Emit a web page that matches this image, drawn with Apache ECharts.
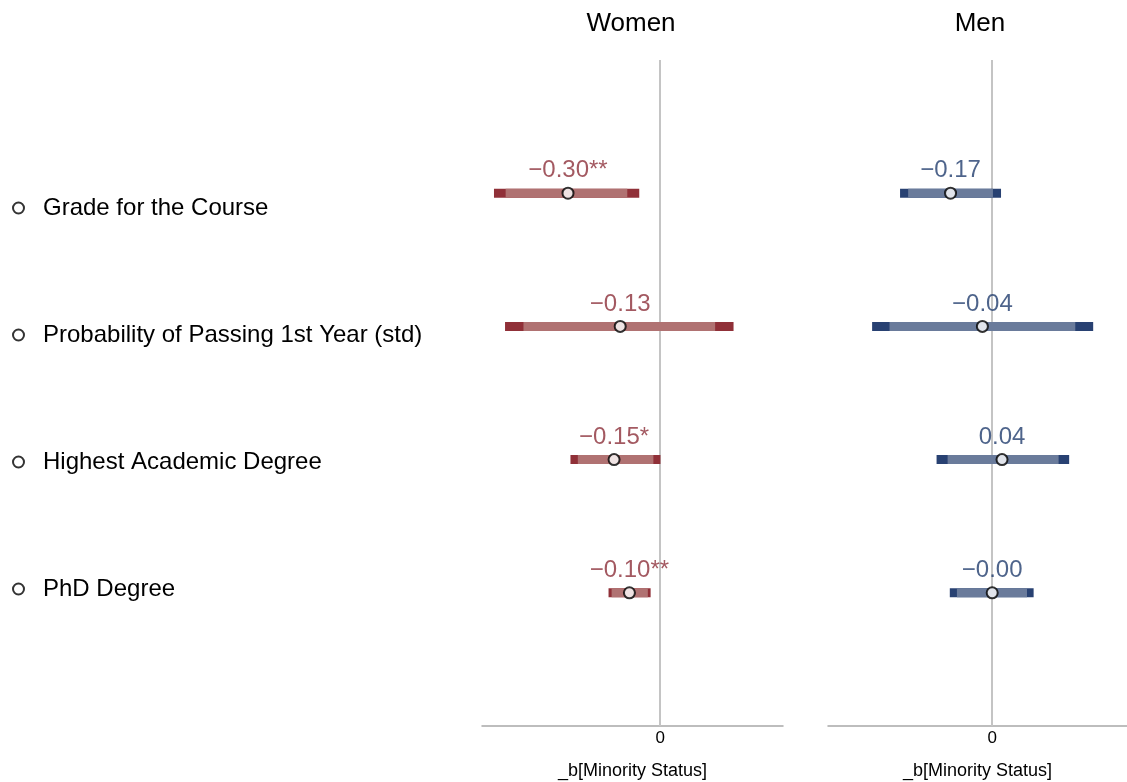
<!DOCTYPE html>
<html>
<head>
<meta charset="utf-8">
<script src="https://cdn.jsdelivr.net/npm/echarts@6/dist/echarts.min.js"></script>
<style>
  html, body { margin: 0; padding: 0; background: #fff; }
  #chart { width: 1127px; height: 782px; }
</style>
</head>
<body>
<div id="chart"></div>
<script>
// Outcomes, listed top to bottom
const outcomes = [
  'Grade for the Course',
  'Probability of Passing 1st Year (std)',
  'Highest Academic Degree',
  'PhD Degree'
];
const panels = ['Women', 'Men'];

// Women: coefficient, 95% and 90% confidence bounds, printed labels
const womenCoef  = [-0.30, -0.13, -0.15, -0.10];
const womenLo95  = [-0.541, -0.505, -0.292, -0.168];
const womenHi95  = [-0.068, 0.239, 0.001, -0.031];
const womenLo90  = [-0.503, -0.445, -0.268, -0.158];
const womenHi90  = [-0.107, 0.179, -0.022, -0.040];
const womenLabel = ['\u22120.30**', '\u22120.13', '\u22120.15*', '\u22120.10**'];

// Men
const menCoef  = [-0.17, -0.04, 0.04, -0.00];
const menLo95  = [-0.376, -0.490, -0.227, -0.173];
const menHi95  = [0.036, 0.412, 0.314, 0.169];
const menLo90  = [-0.343, -0.419, -0.182, -0.144];
const menHi90  = [0.003, 0.339, 0.271, 0.142];
const menLabel = ['\u22120.17', '\u22120.04', '0.04', '\u22120.00'];

const axisTitle = '_b[Minority Status]';
const font = 'Liberation Sans, Arial, sans-serif';

const chart = echarts.init(document.getElementById('chart'));

// Horizontal confidence band drawn as a thick rectangle
function rangeSeries(name, gridIdx, lo, hi, color) {
  return {
    name: name,
    type: 'custom',
    xAxisIndex: gridIdx,
    yAxisIndex: gridIdx,
    silent: true,
    z: 2,
    data: lo.map((v, i) => [v, hi[i], i + 1]),
    encode: { x: [0, 1], y: 2 },
    renderItem: function (params, api) {
      const a = api.coord([api.value(0), api.value(2)]);
      const b = api.coord([api.value(1), api.value(2)]);
      const h = 9;
      return {
        type: 'rect',
        shape: { x: a[0], y: a[1] - h / 2, width: b[0] - a[0], height: h },
        style: { fill: color }
      };
    }
  };
}

// Point estimates with value labels, plus the zero reference line
function pointSeries(name, gridIdx, coef, labels, labelColor) {
  return {
    name: name,
    type: 'scatter',
    xAxisIndex: gridIdx,
    yAxisIndex: gridIdx,
    z: 5,
    symbol: 'circle',
    symbolSize: 11,
    itemStyle: { color: '#fff', borderColor: '#000', borderWidth: 2 },
    data: coef.map((v, i) => [v, i + 1]),
    label: {
      show: true,
      position: 'top',
      distance: 4,
      fontFamily: font,
      fontSize: 24,
      color: labelColor,
      formatter: p => labels[p.dataIndex]
    },
    markLine: {
      silent: true,
      symbol: 'none',
      z: 1,
      label: { show: false },
      lineStyle: { color: '#c4c4c4', width: 2, type: 'solid' },
      data: [{ xAxis: 0 }]
    }
  };
}

function xAxisFor(gridIdx, min, max) {
  return {
    type: 'value',
    gridIndex: gridIdx,
    min: min,
    max: max,
    splitLine: { show: false },
    axisTick: { show: false },
    axisLine: { show: true, onZero: false, lineStyle: { color: '#a8a8a8', width: 1.5 } },
    axisLabel: {
      customValues: [0],
      margin: 4,
      fontFamily: font,
      fontSize: 17,
      color: '#000',
      formatter: v => (Math.abs(v) < 1e-9 ? '0' : '')
    },
    name: axisTitle,
    nameLocation: 'middle',
    nameGap: 36,
    nameTextStyle: { fontFamily: font, fontSize: 18, color: '#000' }
  };
}

function yAxisFor(gridIdx) {
  return {
    type: 'value',
    gridIndex: gridIdx,
    min: 0,
    max: 5,
    inverse: true,
    show: false
  };
}

// One empty series per outcome so the legend can list them
const legendSeries = outcomes.map(o => ({
  name: o,
  type: 'scatter',
  xAxisIndex: 0,
  yAxisIndex: 0,
  data: [],
  itemStyle: { color: '#fff', borderColor: '#000', borderWidth: 2.6 }
}));

const titleStyle = { fontFamily: font, fontSize: 26, fontWeight: 'normal', color: '#000' };

const option = {
  animation: false,
  backgroundColor: '#fff',
  title: [
    { text: panels[0], left: 626, top: 6, textAlign: 'center', textStyle: titleStyle },
    { text: panels[1], left: 975, top: 6, textAlign: 'center', textStyle: titleStyle }
  ],
  legend: {
    orient: 'vertical',
    left: 12,
    top: 195,
    padding: 0,
    itemWidth: 11,
    itemHeight: 11,
    itemGap: 101,
    icon: 'circle',
    selectedMode: false,
    data: outcomes,
    textStyle: { fontFamily: font, fontSize: 24, color: '#000', lineHeight: 26, padding: [0, 0, 0, 14] }
  },
  grid: [
    { left: 482, width: 301, top: 60, height: 666, outerBoundsMode: 'none', containLabel: false },
    { left: 828, width: 299, top: 60, height: 666, outerBoundsMode: 'none', containLabel: false }
  ],
  xAxis: [xAxisFor(0, -0.58, 0.40), xAxisFor(1, -0.67, 0.55)],
  yAxis: [yAxisFor(0), yAxisFor(1)],
  series: [
    rangeSeries('Women 95%', 0, womenLo95, womenHi95, '#903038'),
    rangeSeries('Women 90%', 0, womenLo90, womenHi90, '#b07272'),
    pointSeries('Women', 0, womenCoef, womenLabel, '#8c2f3a'),
    rangeSeries('Men 95%', 1, menLo95, menHi95, '#284172'),
    rangeSeries('Men 90%', 1, menLo90, menHi90, '#6a7b9b'),
    pointSeries('Men', 1, menCoef, menLabel, '#223d6e')
  ].concat(legendSeries)
};

chart.setOption(option);
</script>
</body>
</html>
